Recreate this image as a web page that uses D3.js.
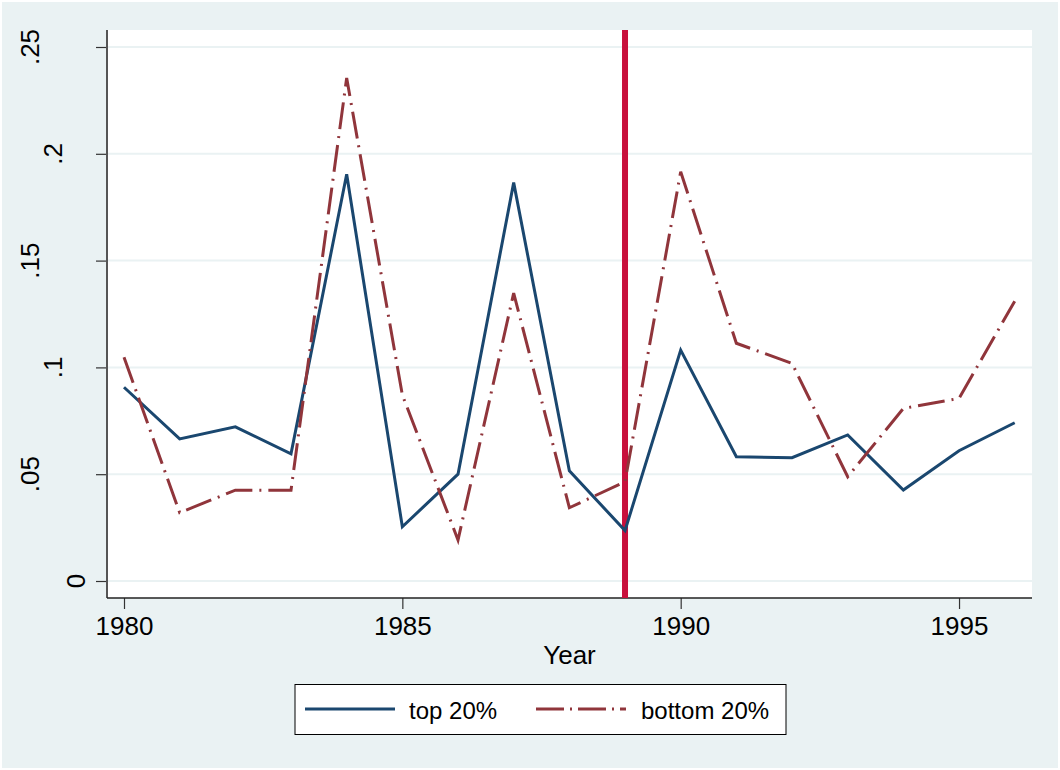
<!DOCTYPE html>
<html>
<head>
<meta charset="utf-8">
<script src="https://cdn.jsdelivr.net/npm/d3@7"></script>
<style>
  html, body { margin: 0; padding: 0; background: #fff; }
  svg { display: block; font-family: "Liberation Sans", Arial, Helvetica, sans-serif; }
</style>
</head>
<body>
<svg width="1060" height="770"></svg>
<script>
// --- data ---
const years = [1980, 1981, 1982, 1983, 1984, 1985, 1986, 1987, 1988, 1989, 1990, 1991, 1992, 1993, 1994, 1995, 1996];
const top20 = [0.0907, 0.0665, 0.0722, 0.0595, 0.1904, 0.0254, 0.0500, 0.1865, 0.0516, 0.0236, 0.1081, 0.0582, 0.0577, 0.0684, 0.0426, 0.0610, 0.0741];
const bottom20 = [0.1047, 0.0320, 0.0425, 0.0425, 0.2355, 0.0871, 0.0192, 0.1348, 0.0343, 0.0465, 0.1916, 0.1113, 0.1019, 0.0488, 0.0808, 0.0855, 0.1310];
const xTicks = [1980, 1985, 1990, 1995];
const yTicks = [0, 0.05, 0.1, 0.15, 0.2, 0.25];
const yTickLabels = ["0", ".05", ".1", ".15", ".2", ".25"];
const markYear = 1989;
const seriesNames = ["top 20%", "bottom 20%"];

const svg = d3.select("svg");
const W = 1060, H = 770;

// outer background (Stata s2color look)
svg.append("rect").attr("width", W).attr("height", H).attr("fill", "#fff");
svg.append("rect").attr("x", 2).attr("y", 2).attr("width", W - 4).attr("height", H - 4).attr("fill", "#EAF2F3");

// plot region
const plot = { left: 107, right: 1032, top: 30, bottom: 598 };
svg.append("rect")
  .attr("x", plot.left).attr("y", plot.top)
  .attr("width", plot.right - plot.left).attr("height", plot.bottom - plot.top)
  .attr("fill", "#fff");

const x = d3.scaleLinear().domain([1980, 1996]).range([124, 1014.7]);
const y = d3.scaleLinear().domain([0, 0.25]).range([581, 47]);

// gridlines
svg.append("g").selectAll("line")
  .data(yTicks)
  .join("line")
  .attr("x1", plot.left).attr("x2", plot.right)
  .attr("y1", d => y(d)).attr("y2", d => y(d))
  .attr("stroke", "#EAF2F3").attr("stroke-width", 2);

// y axis
const yAxis = svg.append("g")
  .attr("transform", `translate(${plot.left},0)`)
  .call(d3.axisLeft(y).tickValues(yTicks).tickSize(11).tickFormat(""));
yAxis.select(".domain").remove();
yAxis.selectAll(".tick line").attr("stroke", "#333").attr("stroke-width", 1.2);
svg.append("line")
  .attr("x1", plot.left).attr("x2", plot.left)
  .attr("y1", plot.top).attr("y2", plot.bottom)
  .attr("stroke", "#555").attr("stroke-width", 2);

// rotated y tick labels (Stata shifts them by label length)
svg.append("g").selectAll("text")
  .data(yTicks)
  .join("text")
  .attr("transform", (d, i) => {
    const cx = 99 - 23 * yTickLabels[i].length;
    return `translate(${cx},${y(d)}) rotate(-90)`;
  })
  .attr("text-anchor", "middle")
  .attr("dy", "0.36em")
  .attr("font-size", 26)
  .attr("fill", "#000")
  .text((d, i) => yTickLabels[i]);

// x axis
const xAxis = svg.append("g")
  .attr("transform", `translate(0,${plot.bottom})`)
  .call(d3.axisBottom(x).tickValues(xTicks).tickSize(11).tickPadding(8).tickFormat(d3.format("d")));
xAxis.select(".domain").remove();
xAxis.selectAll(".tick line").attr("stroke", "#333").attr("stroke-width", 1.2);
xAxis.selectAll(".tick text").attr("font-size", 26).attr("fill", "#000")
  .attr("font-family", "Liberation Sans, Arial, sans-serif");
svg.append("line")
  .attr("x1", plot.left).attr("x2", plot.right)
  .attr("y1", plot.bottom).attr("y2", plot.bottom)
  .attr("stroke", "#222").attr("stroke-width", 1.5);

// axis title
svg.append("text")
  .attr("x", (plot.left + plot.right) / 2).attr("y", 664)
  .attr("text-anchor", "middle")
  .attr("font-size", 26)
  .text("Year");

// vertical reference line (drawn under the series)
svg.append("line")
  .attr("x1", x(markYear)).attr("x2", x(markYear))
  .attr("y1", plot.top).attr("y2", plot.bottom)
  .attr("stroke", "#C8103C").attr("stroke-width", 6);

const line = d3.line().x(d => x(d[0])).y(d => y(d[1]));

svg.append("path")
  .datum(d3.zip(years, top20))
  .attr("d", line)
  .attr("fill", "none")
  .attr("stroke", "#1A476F")
  .attr("stroke-width", 3);

svg.append("path")
  .datum(d3.zip(years, bottom20))
  .attr("d", line)
  .attr("fill", "none")
  .attr("stroke", "#90353B")
  .attr("stroke-width", 3)
  .attr("stroke-dasharray", "27,7,2,7");

// --- legend ---
const legend = svg.append("g");
legend.append("rect")
  .attr("x", 295).attr("y", 684.5).attr("width", 491).attr("height", 50)
  .attr("fill", "#fff").attr("stroke", "#000").attr("stroke-width", 1);

const legendItems = [
  { name: seriesNames[0], color: "#1A476F", dash: null, x0: 305, tx: 409 },
  { name: seriesNames[1], color: "#90353B", dash: "28,6,2,6", x0: 536, tx: 641 }
];
legendItems.forEach(it => {
  legend.append("line")
    .attr("x1", it.x0).attr("x2", it.x0 + 90)
    .attr("y1", 709).attr("y2", 709)
    .attr("stroke", it.color).attr("stroke-width", 3)
    .attr("stroke-dasharray", it.dash);
  legend.append("text")
    .attr("x", it.tx).attr("y", 719)
    .attr("font-size", 24)
    .text(it.name);
});
</script>
</body>
</html>
